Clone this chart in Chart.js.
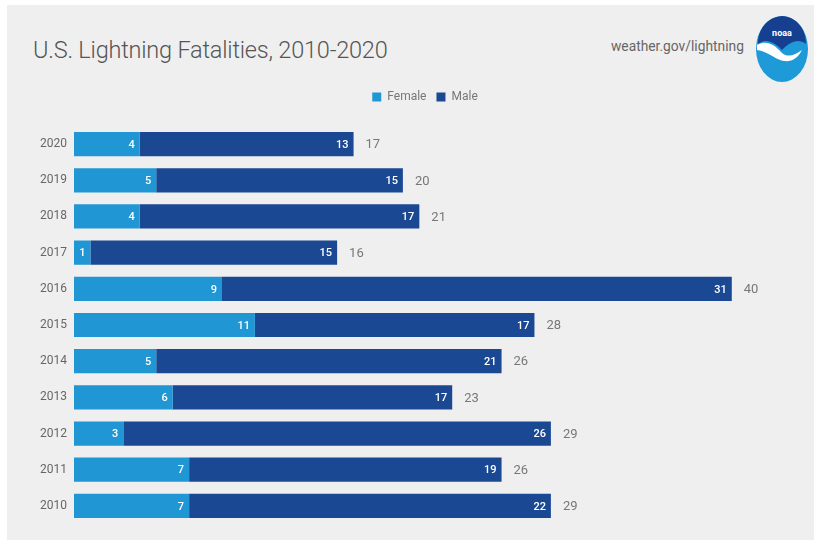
<!DOCTYPE html>
<html>
<head>
<meta charset="utf-8">
<script src="https://cdn.jsdelivr.net/npm/chart.js@4"></script>
<style>
  html, body { margin: 0; padding: 0; background: #fff; }
  #wrap { position: relative; width: 814px; height: 540px; overflow: hidden; font-family: Roboto, "Noto Sans", sans-serif; }
  #panel { position: absolute; left: 7px; top: 5px; right: 0; bottom: 0; background: #efefef; }
  #title { position: absolute; left: 33px; top: 36px; font-size: 23.5px; font-weight: 300; color: #555; letter-spacing: -0.2px; }
  #source { position: absolute; left: 611px; top: 38px; font-size: 13.8px; color: #666; }
  #logo { position: absolute; left: 754px; top: 14px; }
  #chartBox { position: absolute; left: 0; top: 0; width: 814px; height: 540px; }
</style>
</head>
<body>
<div id="wrap">
  <div id="panel"></div>
  <div id="title">U.S. Lightning Fatalities, 2010-2020</div>
  <div id="source">weather.gov/lightning</div>
  <svg id="logo" width="56" height="70" viewBox="0 0 56 70">
    <ellipse cx="28" cy="35" rx="26" ry="33" fill="#1e9ad8"/>
    <path d="M4 30 C4 14 14 3 28 2 C42 3 52 14 52 30 C44 24 36 28 28 36 C20 28 12 24 4 30 Z" fill="#163f8f"/>
    <path d="M3 31 C12 26 20 30 27 38 C33 44 40 42 48 36 C44 44 38 48 30 47 C22 46 16 38 3 36 Z" fill="#fff"/>
    <text x="28" y="22" text-anchor="middle" font-size="9" font-weight="bold" fill="#fff" font-family="Roboto, sans-serif">noaa</text>
  </svg>
  <div id="chartBox"><canvas id="chart"></canvas></div>
</div>
<script>
// U.S. lightning fatalities by year, split by gender
const years = ['2020', '2019', '2018', '2017', '2016', '2015', '2014', '2013', '2012', '2011', '2010'];
const female = [4, 5, 4, 1, 9, 11, 5, 6, 3, 7, 7];
const male = [13, 15, 17, 15, 31, 17, 21, 17, 26, 19, 22];
const totals = [17, 20, 21, 16, 40, 28, 26, 23, 29, 26, 29];

const femaleColour = '#2096d4';
const maleColour = '#1a4893';

// push the legend down a bit so the bars start lower
const legendMargin = {
  id: 'legendMargin',
  beforeInit(chart) {
    const fit = chart.legend.fit;
    chart.legend.fit = function () {
      fit.bind(chart.legend)();
      this.height += 13;
    };
  }
};

// values inside the bars and totals after them
const barLabels = {
  id: 'barLabels',
  afterDatasetsDraw(chart) {
    const ctx = chart.ctx;
    ctx.save();
    ctx.textBaseline = 'middle';
    chart.data.datasets.forEach((ds, di) => {
      const meta = chart.getDatasetMeta(di);
      meta.data.forEach((bar, i) => {
        ctx.font = '500 11px Roboto, sans-serif';
        ctx.fillStyle = '#ffffff';
        ctx.textAlign = 'right';
        ctx.fillText(ds.data[i], bar.x - 5, bar.y + 1);
      });
    });
    const last = chart.getDatasetMeta(1);
    last.data.forEach((bar, i) => {
      ctx.font = '13px Roboto, sans-serif';
      ctx.fillStyle = '#777';
      ctx.textAlign = 'left';
      ctx.fillText(totals[i], bar.x + 12, bar.y + 1);
    });
    ctx.restore();
  }
};

new Chart(document.getElementById('chart'), {
  type: 'bar',
  data: {
    labels: years,
    datasets: [
      { label: 'Female', data: female, backgroundColor: femaleColour },
      { label: 'Male', data: male, backgroundColor: maleColour }
    ]
  },
  options: {
    indexAxis: 'y',
    responsive: true,
    maintainAspectRatio: false,
    animation: false,
    datasets: { bar: { categoryPercentage: 1, barPercentage: 0.67 } },
    layout: { padding: { left: 36, right: 0, top: 81, bottom: 16 } },
    plugins: {
      legend: {
        position: 'top',
        labels: {
          boxWidth: 9,
          boxHeight: 9,
          padding: 10,
          color: '#777',
          font: { family: 'Roboto, sans-serif', size: 12 }
        }
      },
      tooltip: { enabled: false }
    },
    scales: {
      x: {
        stacked: true,
        display: false,
        min: 0,
        max: 45
      },
      y: {
        stacked: true,
        grid: { display: false, drawTicks: false },
        border: { display: false },
        ticks: {
          color: '#666',
          padding: 7,
          font: { family: 'Roboto, sans-serif', size: 12 }
        },
        afterFit(scale) { scale.width = 38; }
      }
    }
  },
  plugins: [legendMargin, barLabels]
});
</script>
</body>
</html>
